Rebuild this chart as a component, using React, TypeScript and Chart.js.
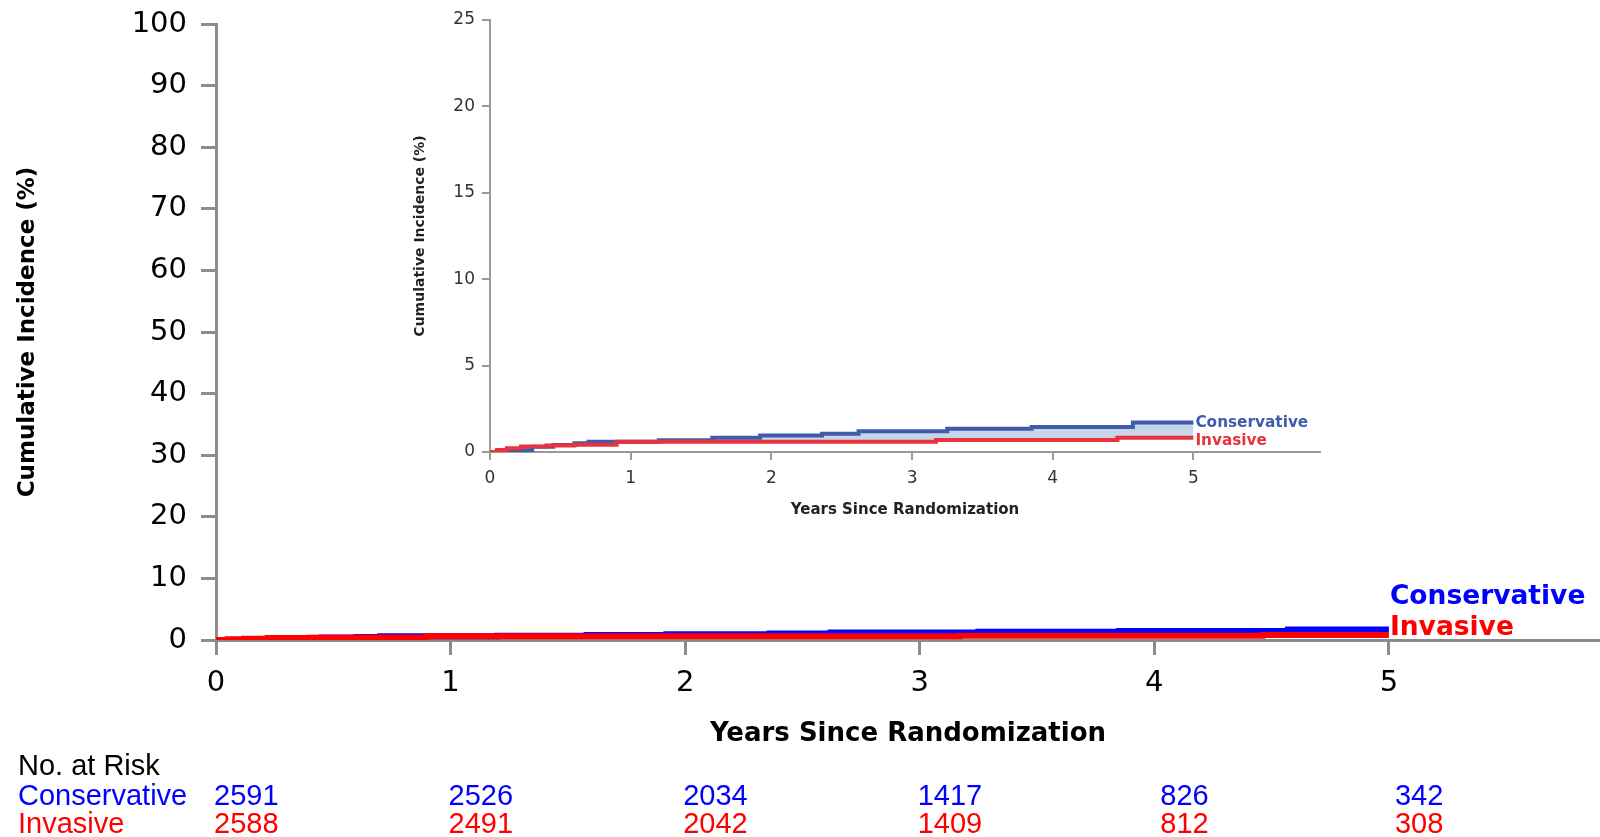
import React, { useEffect, useRef } from "react";
import { Chart, registerables } from "chart.js";
Chart.register(...registerables);

// ---- data ----
const seriesNames = ["Conservative", "Invasive"];
const consTimes = [0, 0.15, 0.3, 0.45, 0.6, 0.7, 1.2, 1.58, 1.92, 2.36, 2.62, 3.25, 3.85, 4.57, 5.0];
const consValues = [0, 0.1, 0.3, 0.4, 0.5, 0.6, 0.68, 0.82, 0.95, 1.05, 1.2, 1.35, 1.45, 1.7, 1.7];
const invTimes = [0, 0.05, 0.12, 0.22, 0.4, 0.6, 0.9, 3.17, 4.46, 5.0];
const invValues = [0, 0.12, 0.22, 0.32, 0.37, 0.42, 0.6, 0.7, 0.83, 0.83];
const xTicks = [0, 1, 2, 3, 4, 5];
const mainYTicks = [0, 10, 20, 30, 40, 50, 60, 70, 80, 90, 100];
const insetYTicks = [0, 5, 10, 15, 20, 25];
const riskTimes = [0, 1, 2, 3, 4, 5];
const consAtRisk = [2591, 2526, 2034, 1417, 826, 342];
const invAtRisk = [2588, 2491, 2042, 1409, 812, 308];
const riskTitle = "No. at Risk";
const yTitle = "Cumulative Incidence (%)";
const xTitle = "Years Since Randomization";

const FF = "'DejaVu Sans', sans-serif";
const pts = (t: number[], v: number[]) => t.map((x, i) => ({ x, y: v[i] }));
const last = (a: number[]) => a[a.length - 1];

function endLabelsPlugin(font: string, items: { text: string; color: string; t: number; v: number; dx: number; dy: number }[]) {
  return {
    id: "endLabels",
    afterDatasetsDraw(chart: any) {
      const { ctx, scales } = chart;
      ctx.save();
      ctx.font = font;
      ctx.textBaseline = "middle";
      ctx.textAlign = "left";
      items.forEach((it) => {
        ctx.fillStyle = it.color;
        ctx.fillText(it.text, scales.x.getPixelForValue(it.t) + it.dx, scales.y.getPixelForValue(it.v) + it.dy);
      });
      ctx.restore();
    },
  };
}

const riskTablePlugin = {
  id: "riskTable",
  afterDraw(chart: any) {
    const { ctx, scales } = chart;
    ctx.save();
    ctx.font = "29px 'Liberation Sans', Arial, sans-serif";
    ctx.textBaseline = "middle";
    ctx.textAlign = "left";
    ctx.fillStyle = "#000";
    ctx.fillText(riskTitle, 18, 767);
    const rows = [
      { name: seriesNames[0], vals: consAtRisk, color: "#0000ff", y: 797 },
      { name: seriesNames[1], vals: invAtRisk, color: "#ff0000", y: 825 },
    ];
    rows.forEach((r) => {
      ctx.fillStyle = r.color;
      ctx.fillText(r.name, 18, r.y);
      r.vals.forEach((v, i) => {
        const s = String(v);
        const px = scales.x.getPixelForValue(riskTimes[i]) + (s.length < 4 ? 6 : -2);
        ctx.fillText(s, px, r.y);
      });
    });
    ctx.restore();
  },
};

const noVPad = (s: any) => { s.paddingTop = 0; s.paddingBottom = 0; };
const noHPad = (s: any) => { s.paddingLeft = 0; s.paddingRight = 0; };

export default function App() {
  const mainRef = useRef<HTMLCanvasElement>(null);
  const insetRef = useRef<HTMLCanvasElement>(null);

  useEffect(() => {
    const axisGray = "#8c8c8c";
    const main = new Chart(mainRef.current!, {
      type: "line",
      data: {
        datasets: [
          { label: seriesNames[1], data: pts(invTimes, invValues), borderColor: "#ff0000", borderWidth: 6, stepped: true, pointRadius: 0, fill: false, borderCapStyle: "butt", borderJoinStyle: "miter" },
          { label: seriesNames[0], data: pts(consTimes, consValues), borderColor: "#0000ff", borderWidth: 6, stepped: true, pointRadius: 0, fill: false, borderCapStyle: "butt", borderJoinStyle: "miter" },
        ],
      } as any,
      options: {
        animation: false,
        responsive: false,
        layout: { padding: { top: 24, right: 0, left: 0, bottom: 0 } },
        plugins: { legend: { display: false }, tooltip: { enabled: false } },
        scales: {
          x: {
            type: "linear", min: 0, max: 5.9,
            afterBuildTicks: (s: any) => { s.ticks = xTicks.map((v) => ({ value: v })); },
            afterFit: (s: any) => { s.height = 197; noHPad(s); },
            grid: { drawOnChartArea: false, drawTicks: true, tickLength: 15, color: axisGray, lineWidth: 3 },
            border: { display: true, color: axisGray, width: 3 },
            ticks: { font: { family: FF, size: 29 }, color: "#000", padding: 11, maxRotation: 0 },
            title: { display: true, text: xTitle, color: "#000", font: { family: FF, size: 26, weight: "bold" }, padding: { top: 0, bottom: 87 } },
          },
          y: {
            type: "linear", min: 0, max: 100,
            afterBuildTicks: (s: any) => { s.ticks = mainYTicks.map((v) => ({ value: v })); },
            afterFit: (s: any) => { s.width = 216; noVPad(s); },
            grid: { drawOnChartArea: false, drawTicks: true, tickLength: 15, color: axisGray, lineWidth: 3 },
            border: { display: true, color: axisGray, width: 3 },
            ticks: { font: { family: FF, size: 29 }, color: "#000", padding: 14 },
            title: { display: true, text: yTitle, color: "#000", font: { family: FF, size: 23, weight: "bold" }, padding: { top: 14, bottom: 0 } },
          },
        },
      } as any,
      plugins: [
        endLabelsPlugin(`bold 26.5px ${FF}`, [
          { text: seriesNames[0], color: "#0000ff", t: last(consTimes), v: last(consValues), dx: 1, dy: -32 },
          { text: seriesNames[1], color: "#ff0000", t: last(invTimes), v: last(invValues), dx: 1, dy: -7 },
        ]),
        riskTablePlugin,
      ],
    });

    const insetGray = "#9b9b9b";
    const inset = new Chart(insetRef.current!, {
      type: "line",
      data: {
        datasets: [
          { label: seriesNames[1], data: pts(invTimes, invValues), borderColor: "#e8323e", borderWidth: 4, stepped: true, pointRadius: 0, fill: false, borderCapStyle: "butt", borderJoinStyle: "miter" },
          { label: seriesNames[0], data: pts(consTimes, consValues), borderColor: "#3f5bab", backgroundColor: "#c6d6ea", borderWidth: 4, stepped: true, pointRadius: 0, fill: "-1", borderCapStyle: "butt", borderJoinStyle: "miter" },
        ],
      } as any,
      options: {
        animation: false,
        responsive: false,
        layout: { padding: { top: 20, right: 30, left: 0, bottom: 0 } },
        plugins: { legend: { display: false }, tooltip: { enabled: false }, filler: { propagate: false } },
        scales: {
          x: {
            type: "linear", min: 0, max: 5.9,
            afterBuildTicks: (s: any) => { s.ticks = xTicks.map((v) => ({ value: v })); },
            afterFit: (s: any) => { s.height = 78; noHPad(s); },
            grid: { drawOnChartArea: false, drawTicks: true, tickLength: 8, color: insetGray, lineWidth: 2 },
            border: { display: true, color: insetGray, width: 2 },
            ticks: { font: { family: FF, size: 17 }, color: "#333", padding: 8, maxRotation: 0 },
            title: { display: true, text: xTitle, color: "#222", font: { family: FF, size: 15, weight: "bold" }, padding: { top: 0, bottom: 11 } },
          },
          y: {
            type: "linear", min: 0, max: 25,
            afterBuildTicks: (s: any) => { s.ticks = insetYTicks.map((v) => ({ value: v })); },
            afterFit: (s: any) => { s.width = 100; noVPad(s); },
            grid: { drawOnChartArea: false, drawTicks: true, tickLength: 8, color: insetGray, lineWidth: 2 },
            border: { display: true, color: insetGray, width: 2 },
            ticks: { font: { family: FF, size: 17 }, color: "#333", padding: 7 },
            title: { display: true, text: yTitle, color: "#222", font: { family: FF, size: 14, weight: "bold" }, padding: { top: 22, bottom: 0 } },
          },
        },
      } as any,
      plugins: [
        endLabelsPlugin(`bold 15.3px ${FF}`, [
          { text: seriesNames[0], color: "#3f5bab", t: last(consTimes), v: last(consValues), dx: 2, dy: 0 },
          { text: seriesNames[1], color: "#e8323e", t: last(invTimes), v: last(invValues), dx: 2, dy: 3 },
        ]),
      ],
    });

    return () => { main.destroy(); inset.destroy(); };
  }, []);

  return (
    <div style={{ position: "fixed", left: 0, top: 0, width: 1600, height: 837, background: "#fff" }}>
      <canvas ref={mainRef} width={1600} height={837} style={{ position: "absolute", left: 0, top: 0, width: 1600, height: 837 }} />
      <canvas ref={insetRef} width={960} height={530} style={{ position: "absolute", left: 390, top: 0, width: 960, height: 530 }} />
    </div>
  );
}
